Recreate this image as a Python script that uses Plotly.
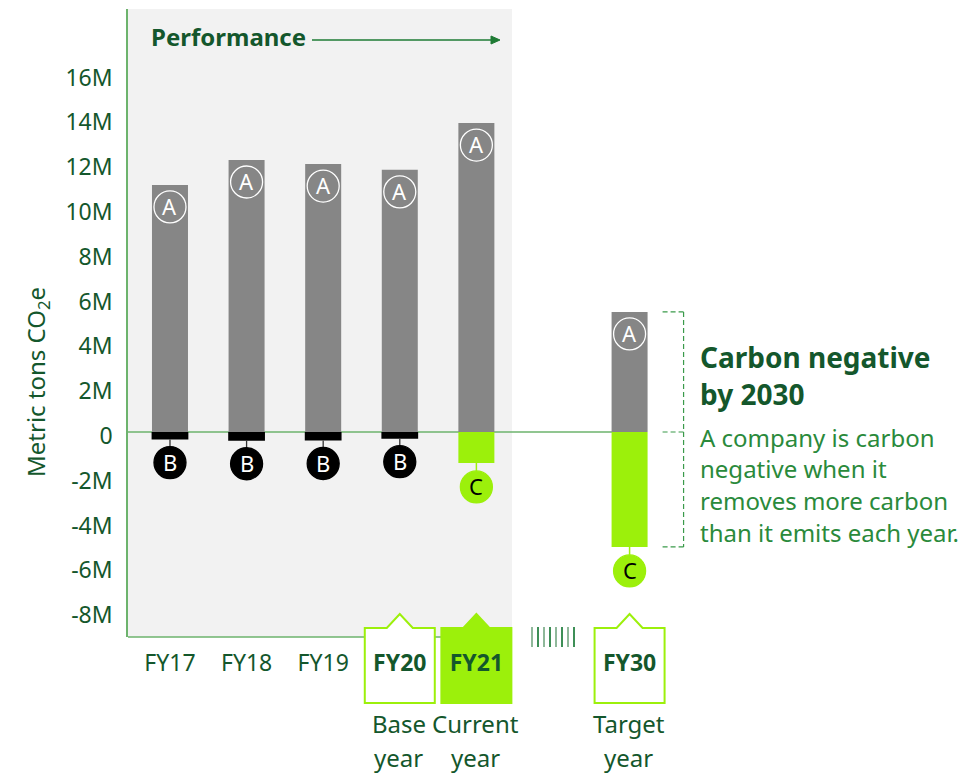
import plotly.graph_objects as go

# ---------------- data ----------------
categories = ["FY17", "FY18", "FY19", "FY20", "FY21", "FY30"]
cat_pos = [0, 1, 2, 3, 4, 6]           # FY30 sits after a break slot
emissions = [11.03e6, 12.14e6, 11.96e6, 11.70e6, 13.79e6, 5.36e6]      # A
offsets_b = [-0.34e6, -0.39e6, -0.38e6, -0.30e6]                         # B (FY17-FY20)
removals_c = [-1.38e6, -5.13e6]                                          # C (FY21, FY30)
b_cats = ["FY17", "FY18", "FY19", "FY20"]
c_cats = ["FY21", "FY30"]
y_tick_vals = [-8e6, -6e6, -4e6, -2e6, 0, 2e6, 4e6, 6e6, 8e6, 10e6, 12e6, 14e6, 16e6]
y_tick_text = ["-8M", "-6M", "-4M", "-2M", "0", "2M", "4M", "6M", "8M", "10M", "12M", "14M", "16M"]
x_tick_text = ["FY17", "FY18", "FY19", "<b>FY20</b>", "<b>FY21</b>", "<b>FY30</b>"]
highlight = {"FY20": ("Base", "year", "outline"),
             "FY21": ("Current", "year", "filled"),
             "FY30": ("Target", "year", "outline")}

# ---------------- style ----------------
FONT = "Noto Sans"
DARK = "#14572C"
MID = "#2A8A3B"
AXIS_GREEN = "#6DB36D"
LIME = "#9CF00B"
GRAY = "#868686"
BG = "#F2F2F2"

PAGE_OFF = 8                      # page body margin
W, H = 960, 766
ML, MR, MT, MB = 120, 0, 1, 137
XMIN = -0.548
XMAX = XMIN + (W - ML - MR) / 76.6

pos = dict(zip(categories, cat_pos))

def pxx(p):
    return (p - PAGE_OFF - ML) / (W - ML - MR)

def pxy(p):
    return (H - MB - (p - PAGE_OFF)) / (H - MT - MB)

fig = go.Figure()
bw = 0.47
fig.add_trace(go.Bar(x=cat_pos, y=emissions, width=bw, marker_color=GRAY,
                     marker_line_width=0, hoverinfo="skip"))
fig.add_trace(go.Bar(x=[pos[c] for c in b_cats], y=offsets_b, width=bw + 0.01,
                     marker_color="#000000", marker_line_width=0, hoverinfo="skip"))
fig.add_trace(go.Bar(x=[pos[c] for c in c_cats], y=removals_c, width=bw,
                     marker_color=LIME, marker_line_width=0, hoverinfo="skip"))

shapes = []
# performance background
shapes.append(dict(type="rect", xref="x", yref="paper", x0=XMIN, x1=4.465, y0=0, y1=1,
                   fillcolor=BG, line_width=0, layer="below"))
shapes.append(dict(type="line", xref="x", yref="paper", x0=XMIN, x1=4.465, y0=0, y1=0,
                   line=dict(color=AXIS_GREEN, width=1.5), layer="below"))
# zero line
shapes.append(dict(type="line", xref="x", yref="y", x0=XMIN, x1=6, y0=0, y1=0,
                   line=dict(color=AXIS_GREEN, width=1.5), layer="below"))

annotations = []

def circle(xv, yv, cy, fill, line_color, letter, text_color):
    shapes.append(dict(type="circle", xref="x", yref="y", xsizemode="pixel", ysizemode="pixel",
                       xanchor=xv, yanchor=yv, x0=-16, x1=16, y0=cy - 16, y1=cy + 16,
                       fillcolor=fill, line=dict(color=line_color, width=1.3), layer="above"))
    annotations.append(dict(x=xv, y=yv, xref="x", yref="y", yshift=cy + 1, text=letter,
                            showarrow=False, xanchor="center", yanchor="middle",
                            font=dict(family=FONT, size=22, color=text_color)))

# A markers
for xv, yv in zip(cat_pos, emissions):
    circle(xv, yv, -22, "rgba(0,0,0,0)", "#FFFFFF", "A", "#FFFFFF")
# B markers
for c, yv in zip(b_cats, offsets_b):
    xv = pos[c]
    shapes.append(dict(type="line", xref="x", yref="y", xsizemode="pixel", ysizemode="pixel",
                       xanchor=xv, yanchor=yv, x0=0, x1=0, y0=0, y1=-7,
                       line=dict(color="#333333", width=1.3), layer="above"))
    circle(xv, yv, -23, "#000000", "#000000", "B", "#FFFFFF")
# C markers
for c, yv in zip(c_cats, removals_c):
    xv = pos[c]
    shapes.append(dict(type="line", xref="x", yref="y", xsizemode="pixel", ysizemode="pixel",
                       xanchor=xv, yanchor=yv, x0=0, x1=0, y0=0, y1=-8,
                       line=dict(color=LIME, width=1.5), layer="above"))
    circle(xv, yv, -24, LIME, LIME, "C", "#000000")

# highlighted tick boxes and captions
for c, (l1, l2, kind) in highlight.items():
    xv = pos[c]
    path = "M -35,-66 L -35,9 L -13,9 L 0,23 L 13,9 L 35,9 L 35,-66 Z"
    fill = LIME if kind == "filled" else "#FFFFFF"
    shapes.append(dict(type="path", xref="x", yref="paper", xsizemode="pixel", ysizemode="pixel",
                       xanchor=xv, yanchor=0, path=path, fillcolor=fill,
                       line=dict(color=LIME, width=2), layer="below"))
    for line_txt, ypix in ((l1, 723), (l2, 757)):
        annotations.append(dict(x=xv, y=pxy(ypix), xref="x", yref="paper", text=line_txt,
                                showarrow=False, xanchor="center", yanchor="middle", xshift=-1,
                                font=dict(family=FONT, size=24, color=DARK)))

# break marks between FY21 and FY30
for i, dx in enumerate(range(-21, 22, 6)):
    shapes.append(dict(type="line", xref="x", yref="paper", xsizemode="pixel", ysizemode="pixel",
                       xanchor=5, yanchor=0, x0=dx, x1=dx, y0=10, y1=-10,
                       line=dict(color="#3E8F57" if i % 2 else "#8FB89A", width=2)))

# target bracket (dashed) for FY30
fy30 = pos["FY30"]
for y0v, y1v in ((emissions[-1], 0), (0, removals_c[-1])):
    shapes.append(dict(type="line", xref="x", yref="y", xsizemode="pixel", xanchor=fy30,
                       x0=54, x1=54, y0=y0v, y1=y1v,
                       line=dict(color="#3A9A4A", width=1.2, dash="5px,3px")))
for yv in (emissions[-1], 0, removals_c[-1]):
    shapes.append(dict(type="line", xref="x", yref="y", xsizemode="pixel", xanchor=fy30,
                       x0=33, x1=54, y0=yv, y1=yv,
                       line=dict(color="#3A9A4A", width=1.2, dash="5px,3px")))

# header "Performance" with arrow
annotations.append(dict(x=pxx(149), y=pxy(37), xref="paper", yref="paper", text="<b>Performance</b>",
                        showarrow=False, xanchor="left", yanchor="middle",
                        font=dict(family=FONT, size=24, color=DARK)))
shapes.append(dict(type="line", xref="paper", yref="paper", x0=pxx(312), x1=pxx(492),
                   y0=pxy(40), y1=pxy(40), line=dict(color="#1E7B34", width=1.3)))
shapes.append(dict(type="path", xref="paper", yref="paper", xsizemode="pixel", ysizemode="pixel",
                   xanchor=pxx(500), yanchor=pxy(40), path="M 0,0 L -9,4 L -9,-4 Z",
                   fillcolor="#1E7B34", line=dict(color="#1E7B34", width=1)))

# side text
for txt, ypix in (("Carbon negative", 357), ("by 2030", 394)):
    annotations.append(dict(x=pxx(698), y=pxy(ypix), xref="paper", yref="paper", text=f"<b>{txt}</b>",
                            showarrow=False, xanchor="left", yanchor="middle",
                            font=dict(family=FONT, size=28, color=DARK)))
for txt, ypix in (("A company is carbon", 437), ("negative when it", 468),
                  ("removes more carbon", 500), ("than it emits each year.", 532)):
    annotations.append(dict(x=pxx(698), y=pxy(ypix), xref="paper", yref="paper", text=txt,
                            showarrow=False, xanchor="left", yanchor="middle",
                            font=dict(family=FONT, size=24, color=MID)))

# y axis title
annotations.append(dict(x=pxx(37), y=pxy(382), xref="paper", yref="paper",
                        text="Metric tons CO<sub>2</sub>e", textangle=-90, showarrow=False,
                        xanchor="center", yanchor="middle",
                        font=dict(family=FONT, size=24, color=DARK)))

fig.update_layout(
    width=W, height=H,
    margin=dict(l=ML, r=MR, t=MT, b=MB),
    paper_bgcolor="#FFFFFF", plot_bgcolor="#FFFFFF",
    barmode="overlay", showlegend=False,
    shapes=shapes, annotations=annotations,
    xaxis=dict(range=[XMIN, XMAX], tickvals=cat_pos, ticktext=x_tick_text, ticks="",
               showgrid=False, zeroline=False, showline=False, ticklabelstandoff=10,
               tickfont=dict(family=FONT, size=23, color=DARK), fixedrange=True),
    yaxis=dict(range=[-9.15e6, 18.88e6], tickvals=y_tick_vals, ticktext=y_tick_text, ticks="",
               showgrid=False, zeroline=False, showline=True, linecolor=AXIS_GREEN, linewidth=1.5,
               ticklabelstandoff=9, ticklabelshift=4,
               tickfont=dict(family=FONT, size=23, color=DARK), fixedrange=True),
)

fig.write_html("out.html")
